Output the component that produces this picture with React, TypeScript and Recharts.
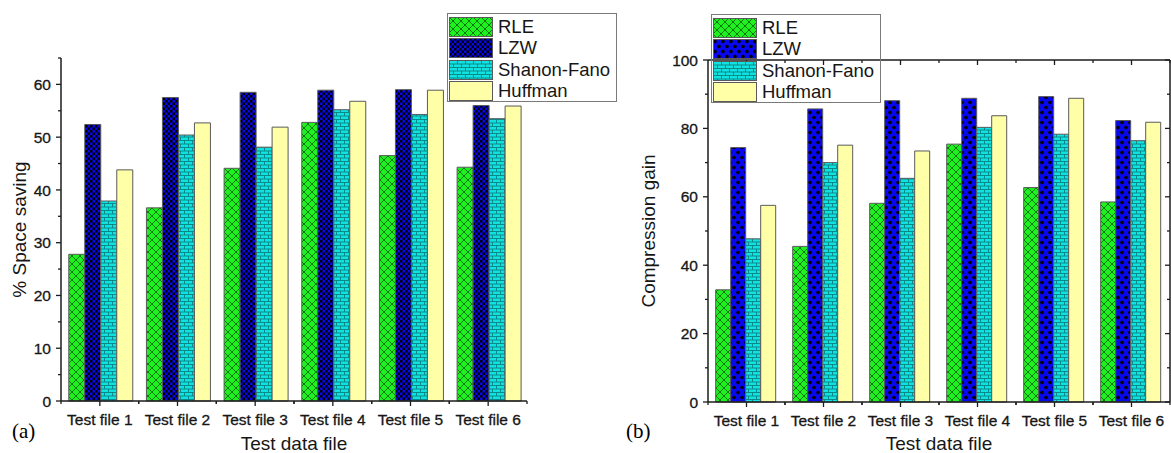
import { Bar, BarChart, XAxis, YAxis, Legend } from 'recharts';

const categories = ['Test file 1', 'Test file 2', 'Test file 3', 'Test file 4', 'Test file 5', 'Test file 6'];
const seriesNames = ['RLE', 'LZW', 'Shanon-Fano', 'Huffman'];

// (a) % space saving
const savingRLE = [27.8, 36.6, 44.1, 52.8, 46.5, 44.3];
const savingLZW = [52.4, 57.5, 58.5, 58.9, 59.0, 56.0];
const savingSF = [37.9, 50.4, 48.1, 55.2, 54.3, 53.5];
const savingHuffman = [43.8, 52.7, 51.9, 56.8, 58.9, 55.9];
const savingTicks = [0, 10, 20, 30, 40, 50, 60];

// (b) compression gain
const gainRLE = [32.8, 45.5, 58.1, 75.4, 62.7, 58.5];
const gainLZW = [74.4, 85.7, 88.1, 88.8, 89.3, 82.3];
const gainSF = [47.7, 70.0, 65.4, 80.3, 78.3, 76.4];
const gainHuffman = [57.5, 75.1, 73.4, 83.7, 88.8, 81.8];
const gainTicks = [0, 20, 40, 60, 80, 100];

const savingData = categories.map((name, i) => ({
    name,
    RLE: savingRLE[i],
    LZW: savingLZW[i],
    'Shanon-Fano': savingSF[i],
    Huffman: savingHuffman[i],
}));

const gainData = categories.map((name, i) => ({
    name,
    RLE: gainRLE[i],
    LZW: gainLZW[i],
    'Shanon-Fano': gainSF[i],
    Huffman: gainHuffman[i],
}));

const FONT = '"Liberation Sans", Arial, sans-serif';
const AXIS = '#1c1c1c';
const TEXT = '#161616';
const BAR_STROKE = '#5a5a5a';

// chart geometry
const L = { w: 600, h: 453, top: 58, yw: 61, right: 73, xh: 52, max: 65, minor: 5 };
const R = { w: 571, h: 453, top: 60, yw: 108, right: 1, xh: 51, max: 100, minor: 10 };

const plot = (c: typeof L) => ({
    left: c.yw,
    right: c.w - c.right,
    top: c.top,
    bottom: c.h - c.xh,
    band: (c.w - c.right - c.yw) / categories.length,
    ppu: (c.h - c.xh - c.top) / c.max,
});

const fillsLeft = ['url(#l-rle)', 'url(#l-lzw)', 'url(#sf)', '#ffffa8'];
const fillsRight = ['url(#l-rle)', 'url(#r-lzw)', 'url(#sf)', '#ffffa8'];

function Patterns() {
    return (
        <svg width="0" height="0" style={{ position: 'absolute' }}>
            <defs>
                <pattern id="l-rle" patternUnits="userSpaceOnUse" width="8" height="8">
                    <rect width="8" height="8" fill="#1ff01f" />
                    <path d="M0,0 L8,8 M8,0 L0,8" stroke="#0b6b0b" strokeWidth="0.9" />
                </pattern>
                <pattern id="l-lzw" patternUnits="userSpaceOnUse" width="5" height="5">
                    <rect width="5" height="5" fill="#0808ee" />
                    <rect width="2.5" height="2.5" fill="#000" />
                    <rect x="2.5" y="2.5" width="2.5" height="2.5" fill="#000" />
                </pattern>
                <pattern id="r-lzw" patternUnits="userSpaceOnUse" width="8" height="10">
                    <rect width="8" height="10" fill="#0808ee" />
                    <circle cx="2" cy="2.5" r="1.8" fill="#000" />
                    <circle cx="6" cy="7.5" r="1.8" fill="#000" />
                </pattern>
                <pattern id="sf" patternUnits="userSpaceOnUse" width="8" height="7">
                    <rect width="8" height="7" fill="#10e2e2" />
                    <path d="M0,0.5 H8 M0,4 H8 M0.5,0.5 V4 M4.5,4 V7" stroke="#0a8080" strokeWidth="0.9" />
                </pattern>
            </defs>
        </svg>
    );
}

function LegendBox({ fills, bg }: { fills: string[]; bg: string }) {
    return (
        <div
            style={{
                width: 170,
                height: 89,
                boxSizing: 'border-box',
                border: '1.5px solid #7a7a7a',
                background: bg,
                padding: '2px 0 0 1px',
                fontFamily: FONT,
            }}
        >
            {seriesNames.map((name, i) => (
                <div key={name} style={{ display: 'flex', alignItems: 'center', height: 21.5 }}>
                    <svg width={44} height={20} style={{ display: 'block' }}>
                        <rect x={0.5} y={0.5} width={43} height={19} fill={fills[i]} stroke={BAR_STROKE} />
                    </svg>
                    <span style={{ marginLeft: 5, fontSize: 18.5, color: TEXT, lineHeight: '20px' }}>{name}</span>
                </div>
            ))}
        </div>
    );
}

const textWeight = { stroke: TEXT, strokeWidth: 0.3 };

function makeBottomTick(c: typeof L) {
    const p = plot(c);
    return (props: any) => {
        const { x, payload } = props;
        const y = p.bottom;
        return (
            <g>
                <line x1={x} y1={y} x2={x} y2={y + 5} stroke={AXIS} strokeWidth={1.3} />
                <line x1={x - p.band / 2} y1={y} x2={x - p.band / 2} y2={y + 3} stroke={AXIS} strokeWidth={1.3} />
                <line x1={x + p.band / 2} y1={y} x2={x + p.band / 2} y2={y + 3} stroke={AXIS} strokeWidth={1.3} />
                <text x={x} y={y + 24} textAnchor="middle" fontSize={15.5} fill={TEXT} fontFamily={FONT} {...textWeight}>
                    {payload.value}
                </text>
            </g>
        );
    };
}

function makeLeftTick(c: typeof L) {
    const p = plot(c);
    return (props: any) => {
        const { y, payload } = props;
        const ax = p.left;
        const my = y - c.minor * p.ppu;
        return (
            <g>
                <line x1={ax - 5} y1={y} x2={ax} y2={y} stroke={AXIS} strokeWidth={1.3} />
                {payload.value + c.minor <= c.max && (
                    <line x1={ax - 3} y1={my} x2={ax} y2={my} stroke={AXIS} strokeWidth={1.3} />
                )}
                <text x={ax - 10} y={y} dy="0.36em" textAnchor="end" fontSize={15.5} fill={TEXT} fontFamily={FONT} {...textWeight}>
                    {payload.value}
                </text>
            </g>
        );
    };
}

function RotatedTitle({ viewBox, value, cx }: any) {
    const cy = viewBox.y + viewBox.height / 2;
    return (
        <text
            x={cx}
            y={cy}
            transform={`rotate(-90, ${cx}, ${cy})`}
            textAnchor="middle"
            dominantBaseline="central"
            fontSize={19}
            fill={TEXT}
            fontFamily={FONT}
        >
            {value}
        </text>
    );
}

function BottomTitle({ viewBox, value }: any) {
    return (
        <text
            x={viewBox.x + viewBox.width / 2}
            y={450}
            textAnchor="middle"
            fontSize={19}
            fill={TEXT}
            fontFamily={FONT}
        >
            {value}
        </text>
    );
}

// title plus the top/right frame (with inward ticks) of panel (b)
function FramedBottomTitle(props: any) {
    const { viewBox } = props;
    const p = plot(R);
    const left = viewBox.x;
    const right = viewBox.x + viewBox.width;
    const bottom = viewBox.y;
    const top = R.top;
    const band = viewBox.width / categories.length;
    const yOf = (v: number) => bottom - v * p.ppu;
    const s = { stroke: AXIS, strokeWidth: 1.3 };
    return (
        <g>
            <line x1={left} y1={top} x2={right} y2={top} stroke={AXIS} strokeWidth={1.5} />
            <line x1={right} y1={top} x2={right} y2={bottom} stroke={AXIS} strokeWidth={1.5} />
            {categories.map((c, i) => (
                <g key={c}>
                    <line x1={left + band * (i + 0.5)} y1={top} x2={left + band * (i + 0.5)} y2={top + 5} {...s} />
                    <line x1={left + band * (i + 1)} y1={top} x2={left + band * (i + 1)} y2={top + 3} {...s} />
                </g>
            ))}
            {gainTicks.map((v) => (
                <g key={v}>
                    <line x1={right - 5} y1={yOf(v)} x2={right} y2={yOf(v)} {...s} />
                    {v + R.minor < R.max && (
                        <line x1={right - 3} y1={yOf(v + R.minor)} x2={right} y2={yOf(v + R.minor)} {...s} />
                    )}
                </g>
            ))}
            <BottomTitle {...props} />
        </g>
    );
}

function renderBars(fills: string[]) {
    return seriesNames.map((name, i) => (
        <Bar
            key={name}
            dataKey={name}
            name={name}
            fill={fills[i]}
            stroke={BAR_STROKE}
            strokeWidth={1}
            isAnimationActive={false}
        />
    ));
}

const axisLine = { stroke: AXIS, strokeWidth: 1.5 };

export default function App() {
    return (
        <div
            style={{
                position: 'absolute',
                left: 0,
                top: 0,
                width: 1171,
                height: 453,
                overflow: 'hidden',
                background: '#fff',
                fontFamily: FONT,
            }}
        >
            <Patterns />
            <div style={{ position: 'absolute', left: 0, top: 0 }}>
                <BarChart
                    width={L.w}
                    height={L.h}
                    data={savingData}
                    margin={{ top: L.top, right: L.right, bottom: 0, left: 0 }}
                    barCategoryGap="10%"
                    barGap={0}
                >
                    <XAxis
                        dataKey="name"
                        height={L.xh}
                        interval={0}
                        tickLine={false}
                        axisLine={axisLine}
                        tick={makeBottomTick(L)}
                        label={<BottomTitle value="Test data file" />}
                    />
                    <YAxis
                        width={L.yw}
                        domain={[0, L.max]}
                        ticks={savingTicks}
                        tickLine={false}
                        axisLine={axisLine}
                        tick={makeLeftTick(L)}
                        label={<RotatedTitle value="% Space saving" cx={19} />}
                    />
                    {renderBars(fillsLeft)}
                    <Legend
                        layout="vertical"
                        align="center"
                        verticalAlign="middle"
                        wrapperStyle={{ left: 447, top: 13, width: 170, height: 89 }}
                        content={() => <LegendBox fills={fillsLeft} bg="#fff" />}
                    />
                </BarChart>
            </div>
            <div style={{ position: 'absolute', left: 600, top: 0 }}>
                <BarChart
                    width={R.w}
                    height={R.h}
                    data={gainData}
                    margin={{ top: R.top, right: R.right, bottom: 0, left: 0 }}
                    barCategoryGap="10%"
                    barGap={0}
                >
                    <XAxis
                        dataKey="name"
                        height={R.xh}
                        interval={0}
                        tickLine={false}
                        axisLine={axisLine}
                        tick={makeBottomTick(R)}
                        label={<FramedBottomTitle value="Test data file" />}
                    />
                    <YAxis
                        width={R.yw}
                        domain={[0, R.max]}
                        ticks={gainTicks}
                        tickLine={false}
                        axisLine={axisLine}
                        tick={makeLeftTick(R)}
                        label={<RotatedTitle value="Compression gain" cx={48} />}
                    />
                    {renderBars(fillsRight)}
                    <Legend
                        layout="vertical"
                        align="center"
                        verticalAlign="middle"
                        wrapperStyle={{ left: 111, top: 14, width: 171, height: 91 }}
                        content={() => <LegendBox fills={fillsRight} bg="transparent" />}
                    />
                </BarChart>
            </div>
            <div style={{ position: 'absolute', left: 12, top: 419, fontFamily: '"Liberation Serif", serif', fontSize: 21 }}>
                (a)
            </div>
            <div style={{ position: 'absolute', left: 626, top: 419, fontFamily: '"Liberation Serif", serif', fontSize: 21 }}>
                (b)
            </div>
        </div>
    );
}
